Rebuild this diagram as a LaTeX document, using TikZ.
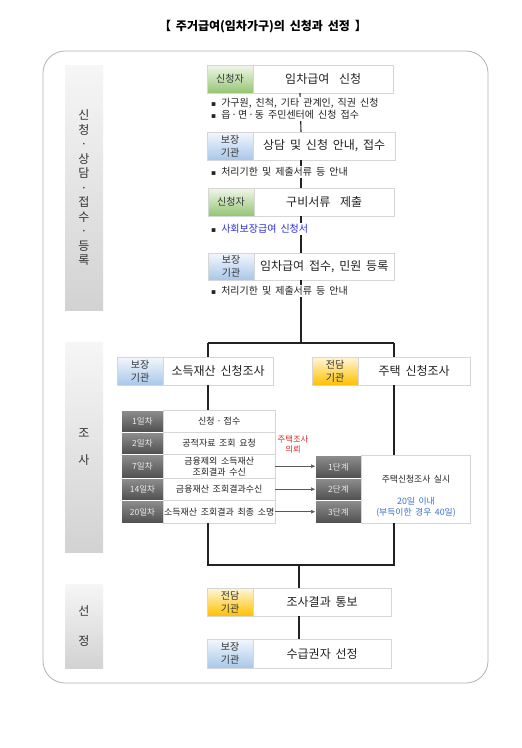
\documentclass[tikz,border=0pt]{standalone}
\usepackage{fontspec}
\setmainfont[WordSpace=1.8]{Noto Sans CJK KR}
\newfontfamily\symf{DejaVu Sans}
\usetikzlibrary{arrows.meta}
\definecolor{linec}{HTML}{222222}
\definecolor{boxb}{HTML}{D6D6D6}
\definecolor{txt}{HTML}{222222}
\definecolor{labt}{HTML}{333333}
\definecolor{gA}{HTML}{F1F7EA}\definecolor{gB}{HTML}{D9EBCB}\definecolor{gC}{HTML}{93C572}
\definecolor{bA}{HTML}{F3F7FC}\definecolor{bB}{HTML}{DDE9F6}\definecolor{bC}{HTML}{A8C7EA}
\definecolor{yA}{HTML}{FFF7DA}\definecolor{yB}{HTML}{FFE69A}\definecolor{yC}{HTML}{FFC000}
\definecolor{dA}{HTML}{8E8E8E}\definecolor{dC}{HTML}{4E4E4E}
\definecolor{sA}{HTML}{F6F6F6}\definecolor{sC}{HTML}{D2D2D2}
\definecolor{bluet}{HTML}{2B2BD6}
\definecolor{bluel}{HTML}{3A72C8}
\definecolor{redt}{HTML}{E02525}
\tikzset{
  conn/.style={draw=linec, line width=1.1pt},
  arrline/.style={draw=black!65, line width=0.6pt, -{Triangle[length=4pt,width=3.5pt]}},
  mainbox/.style={draw=boxb, fill=white, minimum height=28pt, inner sep=0pt},
  maintext/.style={font=\fontsize{12}{14}\selectfont, text=txt, inner sep=0pt},
  lab/.style={draw=boxb, minimum height=28pt, minimum width=46pt, inner sep=0pt, align=center, font=\fontsize{10}{13}\selectfont, text=labt},
  greenlab/.style={lab, top color=gA, middle color=gB, bottom color=gC},
  bluelab/.style={lab, top color=bA, middle color=bB, bottom color=bC},
  yellowlab/.style={lab, top color=yA, middle color=yB, bottom color=yC},
  sidebox/.style={minimum width=38pt, inner sep=0pt, top color=sA, bottom color=sC, align=center, text=labt, font=\fontsize{12}{14.5}\selectfont},
  bullets/.style={anchor=west, fill=white, inner sep=1pt, align=left, text=txt, font=\fontsize{10}{12}\selectfont},
  darkcell/.style={draw=white, line width=0.8pt, minimum width=42pt, inner sep=0pt, top color=dA, bottom color=dC, text=white!92!black, font=\fontsize{8.5}{10}\selectfont},
  whitecell/.style={draw=boxb, fill=white, minimum width=112pt, inner sep=0pt, align=center, text=txt, font=\fontsize{9}{11}\selectfont},
}
\newcommand\mkbox[7]{%
  \node[mainbox, minimum width=#3, minimum height=#4] (#1) at #2 {};
  \node[#5, minimum height=#4, anchor=west] (#1l) at (#1.west) {#6};
  \path (#1l.east) -- (#1.east) node[midway, maintext] (#1t) {#7};
}
\newcommand\trow[5]{%
  \node[darkcell, minimum height=#3, anchor=north west] (#1d) at (121,#2) {#4};
  \node[whitecell, minimum height=#3, anchor=north west] (#1t) at (163,#2) {#5};
}
\newcommand\bul{{\symf\fontsize{7.5}{12}\selectfont\raisebox{0.6pt}{▪}}\hspace{5pt}}
\begin{document}
\begin{tikzpicture}[x=1pt,y=-1pt]
\useasboundingbox (0,0) rectangle (522,748);
\fill[white] (0,0) rectangle (522,748);
% title
\node[font=\fontsize{12}{14}\selectfont\bfseries, text=black] (title) at (263,27) {【 주거급여(임차가구)의 신청과 선정 】};
% outer frame
\draw[draw=black!30, line width=0.8pt, rounded corners=22pt] (43,51) rectangle (488,683);
% side stages
\node[sidebox, minimum height=245pt] (s1) at (84,187.5) {신\\청\\·\\상\\담\\·\\접\\수\\·\\등\\록};
\node[sidebox, minimum height=210pt, font=\fontsize{12}{27}\selectfont] (s2) at (84,447) {조\\사};
\node[sidebox, minimum height=84pt, font=\fontsize{12}{30}\selectfont] (s3) at (84,626) {선\\정};
% main boxes
\mkbox{b1}{(300,79)}{186pt}{28pt}{greenlab}{신청자}{임차급여\ \ 신청}
\mkbox{b2}{(301,146)}{188pt}{28pt}{bluelab}{보장\\기관}{상담 및 신청 안내, 접수}
\mkbox{b3}{(301,202)}{186pt}{28pt}{greenlab}{신청자}{구비서류\ \ 제출}
\mkbox{b4}{(301,266.5)}{186pt}{27pt}{bluelab}{보장\\기관}{임차급여 접수, 민원 등록}
\mkbox{i1}{(195,371)}{156pt}{28pt}{bluelab}{보장\\기관}{소득재산 신청조사}
\mkbox{i2}{(391,371)}{158pt}{28pt}{yellowlab}{전담\\기관}{주택 신청조사}
\mkbox{c1}{(299,602)}{184pt}{28pt}{yellowlab}{전담\\기관}{조사결과 통보}
\mkbox{c2}{(299,653.5)}{184pt}{29pt}{bluelab}{보장\\기관}{수급권자 선정}
% left table
\trow{r1}{410}{22pt}{1일차}{신청\hspace{2pt}·\hspace{2pt}접수}
\trow{r2}{432}{22pt}{2일차}{공적자료 조회 요청}
\trow{r3}{454}{24pt}{7일차}{금융제외 소득재산\\조회결과 수신}
\trow{r4}{478}{22pt}{14일차}{금융재산 조회결과수신}
\trow{r5}{500}{23pt}{20일차}{소득재산 조회결과 최종 소명}
% right table
\node[darkcell, minimum width=46pt, minimum height=23pt, anchor=north west] (q1) at (315,455) {1단계};
\node[darkcell, minimum width=46pt, minimum height=22pt, anchor=north west] (q2) at (315,478) {2단계};
\node[darkcell, minimum width=46pt, minimum height=23pt, anchor=north west] (q3) at (315,500) {3단계};
\node[whitecell, minimum width=109pt, minimum height=68pt, anchor=north west] (q) at (361,455) {};
\node[text=txt, font=\fontsize{8.8}{10}\selectfont] (qa) at (416,479) {주택신청조사 실시};
\node[text=bluel, align=center, font=\fontsize{8.8}{11}\selectfont] (qb) at (416,507) {20일 이내\\(부득이한 경우 40일)};
% request label
\node[text=redt, align=center, font=\fontsize{8.3}{10}\selectfont] (req) at (293,444) {주택조사\\의뢰};
% arrows
\draw[arrline] (r3t.east) -- (r3t.east -| q1.west);
\draw[arrline] (r4t.east) -- (r4t.east -| q2.west);
\draw[arrline] (r5t.east) -- (r5t.east -| q3.west);
% junctions
\coordinate (jL) at (208,343);
\coordinate (jR) at (394,343);
\coordinate (kL) at (208,565);
\coordinate (kR) at (394,565);
% connectors
\draw[conn] (b1.south) -- (b2.north);
\draw[conn] (b2.south) -- (b3.north);
\draw[conn] (b3.south) -- (b4.north);
\draw[conn] (b4.south) -- (b4.south |- jL);
\draw[conn] (jL) -- (jR);
\draw[conn] (jL) -- (jL |- i1.north);
\draw[conn] (jR) -- (jR |- i2.north);
\draw[conn] (jL |- i1.south) -- (jL |- r1t.north);
\draw[conn] (jR |- i2.south) -- (jR |- q.north);
\draw[conn] (jL |- r5t.south) -- (kL) -- (kR) -- (jR |- q.south);
\draw[conn] (c1.north |- kL) -- (c1.north);
\draw[conn] (c1.south) -- (c2.north);
% bullets
\node[bullets] (p1) at (210,109) {\bul 가구원, 친척, 기타 관계인, 직권 신청\\\bul 읍\hspace{1pt}·\hspace{1pt}면\hspace{1pt}·\hspace{1pt}동 주민센터에 신청 접수};
\node[bullets] (p2) at (210,172) {\bul 처리기한 및 제출서류 등 안내};
\node[bullets] (p3) at (210,229) {\bul {\color{bluet}사회보장급여 신청서}};
\node[bullets] (p4) at (210,291) {\bul 처리기한 및 제출서류 등 안내};
\end{tikzpicture}
\end{document}
